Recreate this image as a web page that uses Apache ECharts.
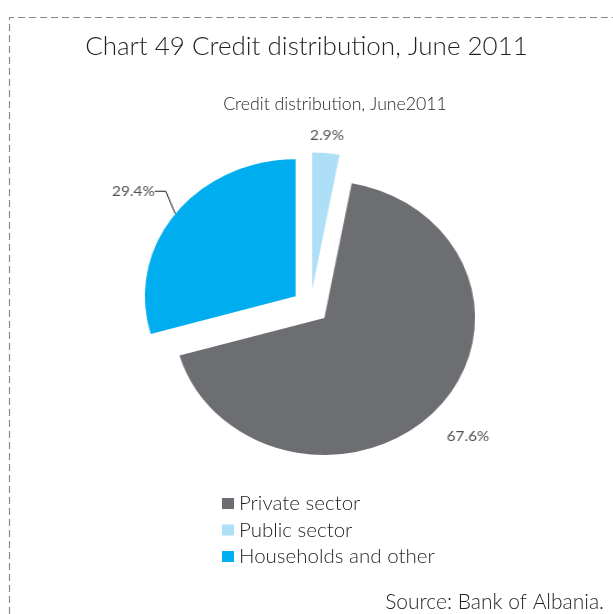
<!DOCTYPE html>
<html>
<head>
<meta charset="utf-8">
<script src="https://cdn.jsdelivr.net/npm/echarts@6/dist/echarts.min.js"></script>
<style>
  html, body { margin: 0; padding: 0; background: #fff; overflow: hidden; }
  #frame { position: absolute; left: 0; top: 0; width: 613px; height: 614px; }
  /* the pie is drawn slightly wider than tall */
  #pie { position: absolute; left: 0; top: 0; width: 613px; height: 614px;
         transform-origin: 310.5px 0; transform: scaleX(1.1); }
</style>
</head>
<body>
<div id="frame"></div>
<div id="pie"></div>
<script>
// Slices, clockwise from 12 o'clock
const categories = ['Public sector', 'Private sector', 'Households and other'];
const shares = [2.9, 67.6, 29.4];
// Legend order
const legendOrder = ['Private sector', 'Public sector', 'Households and other'];
const sliceColors = ['#addff7', '#6d6e71', '#00adef'];

const titleText = 'Chart 49 Credit distribution, June 2011';
const subtitleText = 'Credit distribution, June2011';
const sourceText = 'Source: Bank of Albania.';

const FONT = 'Lato, "Open Sans", sans-serif';

const PIE_CX = 310.5, PIE_CY = 306.5, PIE_R = 137, EXPLODE = 17;

// Frame, titles, legend
const frame = echarts.init(document.getElementById('frame'), null, { renderer: 'canvas' });
frame.setOption({
  animation: false,
  title: [
    { text: titleText, left: 'center', top: 29,
      textStyle: { fontFamily: FONT, fontWeight: 300, fontSize: 26, color: '#231f20' } },
    { text: subtitleText, left: 330, textAlign: 'center', top: 90,
      textStyle: { fontFamily: FONT, fontWeight: 300, fontSize: 17.7, color: '#231f20' } },
    { text: sourceText, right: 4, top: 587,
      textStyle: { fontFamily: FONT, fontWeight: 300, fontSize: 21, color: '#231f20' } }
  ],
  legend: {
    data: legendOrder,
    orient: 'vertical',
    left: 222, top: 493,
    padding: 0,
    itemWidth: 12, itemHeight: 11, itemGap: 5.5,
    icon: 'rect',
    selectedMode: false,
    textStyle: { fontFamily: FONT, fontWeight: 300, fontSize: 20.5, color: '#231f20' }
  },
  series: [{
    type: 'pie',
    radius: [0, 0],
    center: [PIE_CX, PIE_CY],
    silent: true,
    label: { show: false },
    labelLine: { show: false },
    data: categories.map((name, i) => ({ name: name, value: shares[i], itemStyle: { color: sliceColors[i] } }))
  }],
  graphic: [
    { type: 'polyline', silent: true,
      shape: { points: [[9.5, 614], [9.5, 17.5], [613, 17.5]] },
      style: { stroke: '#8a8a8a', lineWidth: 1.2, lineDash: [7, 4], fill: null } }
  ]
});

// Exploded pie: one series per slice, each pushed out along its own bisector
const total = shares.reduce((a, b) => a + b, 0);
let cumulative = 0;
const labelPlacement = [
  function (r) { return { x: r.x + r.width / 2 + 1, y: r.y - 17.5, align: 'center', verticalAlign: 'middle' }; },
  function (r) { return { x: r.x + r.width - 6.5, y: r.y + r.height - 18, align: 'center', verticalAlign: 'middle' }; },
  function (r) { return { x: r.x + 9, y: r.y + 32, align: 'right', verticalAlign: 'middle' }; }
];
const pieSeries = categories.map((name, k) => {
  const mid = (cumulative + shares[k] / 2) / total * 2 * Math.PI; // clockwise from north
  cumulative += shares[k];
  return {
    type: 'pie',
    name: name,
    center: [PIE_CX + EXPLODE * Math.sin(mid), PIE_CY - EXPLODE * Math.cos(mid)],
    radius: PIE_R,
    startAngle: 90,
    clockwise: true,
    avoidLabelOverlap: false,
    silent: true,
    emphasis: { disabled: true },
    itemStyle: { borderWidth: 0 },
    label: {
      show: true,
      position: 'outside',
      formatter: '{c}%',
      fontFamily: FONT,
      fontWeight: 400,
      fontSize: 14,
      color: '#505050'
    },
    labelLine: {
      show: k === 2,
      length: 10,
      length2: 10,
      lineStyle: { color: '#231f20', width: 1 }
    },
    labelLayout: function (p) { return labelPlacement[k](p.rect); },
    data: categories.map((n, i) => (i === k
      ? { name: n, value: shares[i], itemStyle: { color: sliceColors[i] } }
      : { name: n, value: shares[i], itemStyle: { color: 'rgba(0,0,0,0)' },
          label: { show: false }, labelLine: { show: false } }))
  };
});

const pie = echarts.init(document.getElementById('pie'), null, { renderer: 'canvas' });
pie.setOption({ animation: false, series: pieSeries });
</script>
</body>
</html>
